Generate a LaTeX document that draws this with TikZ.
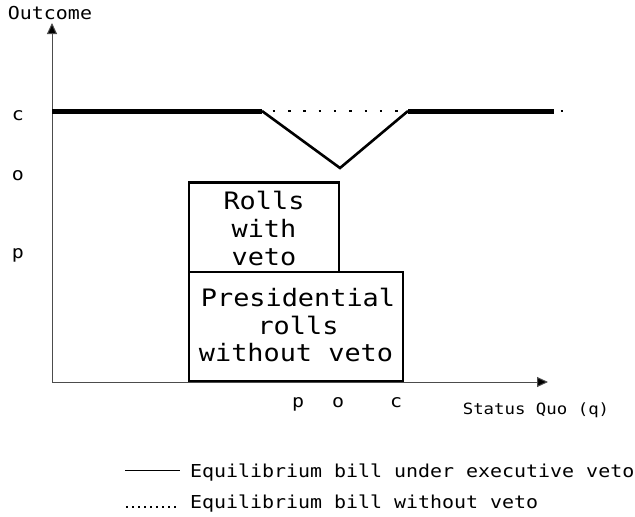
\documentclass[tikz,border=0pt]{standalone}
\usepackage{fontspec}
\usetikzlibrary{arrows.meta}
\newfontfamily\monofont[FakeStretch=1.12]{DejaVu Sans Mono}
\tikzset{
  lbl/.style={inner sep=0pt, font=\monofont\fontsize{17.8}{21}\selectfont},
  boxtxt/.style={inner sep=0pt, anchor=base, font=\monofont\fontsize{24}{28}\selectfont},
  axis/.style={draw=black!70, line width=1pt, -{Triangle[length=11pt,width=10pt,fill=black]}},
  eqline/.style={line width=5pt},
  vline/.style={line width=2.6pt, line join=miter},
  dotline/.style={line width=2.5pt, dash pattern=on 2.5pt off 12.8pt, dash phase=4.6pt},
  regionbox/.style={draw, line width=2.2pt, fill=white},
}
\begin{document}
\begin{tikzpicture}[x=1pt,y=-1pt]
\useasboundingbox (0,0) rectangle (635,517);
% coordinates
\coordinate (O) at (52,382);
\coordinate (ytop) at (52,23);
\coordinate (xend) at (548,382);
\coordinate (c0) at (52,111);
\coordinate (c1) at (262,111);
\coordinate (vb) at (340,168);
\coordinate (c2) at (408,111);
\coordinate (c3) at (554,111);
\coordinate (c4) at (560.5,111);
\coordinate (c5) at (563,111);
% boxes
\draw[regionbox] (189,272) rectangle (403,381);
\draw[regionbox] (189,182) rectangle (339,272);
\draw[line width=3.5pt] (188,182.5) -- (340,182.5);
% axes
\draw[axis] (O) -- (ytop);
\draw[axis] (O) -- (xend);
% equilibrium lines
\draw[eqline] (c0) -- (c1);
\draw[eqline] (c2) -- (c3);
\draw[line width=2.5pt] (c4) -- (c5);
\draw[dotline] (c1) -- (c2);
\draw[vline] (c1) -- (vb) -- (c2);
% axis labels
\node[lbl, anchor=base] (outcome) at (50,19.5) {Outcome};
\node[lbl, anchor=base] (yc) at (18,120) {c};
\node[lbl, anchor=base] (yo) at (18,180) {o};
\node[lbl, anchor=base] (yp) at (18,258) {p};
\node[lbl, anchor=base] (xp) at (298,407) {p};
\node[lbl, anchor=base] (xo) at (338,407) {o};
\node[lbl, anchor=base] (xc) at (396,407) {c};
\node[inner sep=0pt, anchor=base, font=\monofont\fontsize{15.5}{18}\selectfont] (sq) at (536,414) {Status Quo (q)};
% box texts
\node[boxtxt] (r1) at (264,209) {Rolls};
\node[boxtxt] (r2) at (264,237) {with};
\node[boxtxt] (r3) at (264,265) {veto};
\node[boxtxt] (p1) at (298,306.5) {Presidential};
\node[boxtxt] (p2) at (298,334) {rolls};
\node[boxtxt] (p3) at (296,361.5) {without veto};
% legend
\coordinate (l1a) at (125,470);
\coordinate (l1b) at (180,470);
\coordinate (l2a) at (126,507);
\coordinate (l2b) at (180,507);
\draw[line width=1pt] (l1a) -- (l1b);
\draw[line width=1.5pt, dash pattern=on 1.5pt off 4.5pt] (l2a) -- (l2b);
\node[lbl, anchor=base west] (leg1) at (190,477) {Equilibrium bill under executive veto};
\node[lbl, anchor=base west] (leg2) at (190,508) {Equilibrium bill without veto};
\end{tikzpicture}
\end{document}
